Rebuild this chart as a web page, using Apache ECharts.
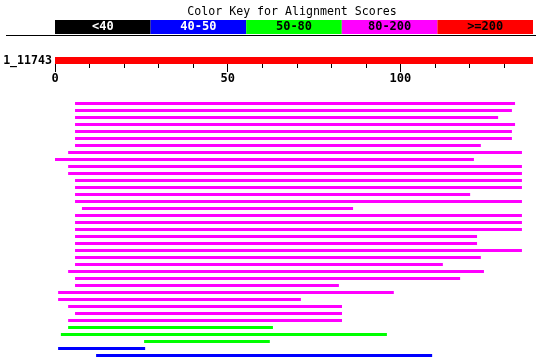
<!DOCTYPE html>
<html><head><meta charset="utf-8">
<script src="https://cdn.jsdelivr.net/npm/echarts@6/dist/echarts.min.js"></script>
<style>html,body{margin:0;padding:0;background:#fff}#c{width:536px;height:360px}</style>
</head><body><div id="c"></div>
<script>
const keyTitle = 'Color Key for Alignment Scores';
const keyLabels = ['<40', '40-50', '50-80', '80-200', '>=200'];
const keyColors = ['#000000', '#0000ff', '#00ff00', '#ff00ff', '#ff0000'];
const keyTextColors = ['#ffffff', '#ffffff', '#000000', '#000000', '#000000'];
const queryName = '1_11743';
const queryLength = 138.4;
const majorTicks = [0, 50, 100];
const minorTicks = [0, 10, 20, 30, 40, 50, 60, 70, 80, 90, 100, 110, 120, 130];
const hitStarts = [5.8, 5.8, 5.8, 5.8, 5.8, 5.8, 5.8, 3.8, 0, 3.8, 3.8, 5.8, 5.8, 5.8, 5.8, 7.8,
  5.8, 5.8, 5.8, 5.8, 5.8, 5.8, 5.8, 5.8, 3.8, 5.8, 5.8, 0.9, 0.9, 3.8, 5.8, 3.8,
  3.8, 1.7, 25.8, 0.9, 11.9];
const hitEnds = [133.2, 132.3, 128.3, 133.2, 132.3, 132.3, 123.3, 135.2, 121.3, 135.2, 135.2, 135.2, 135.2, 120.2, 135.2, 86.3,
  135.2, 135.2, 135.2, 122.2, 122.2, 135.2, 123.3, 112.3, 124.2, 117.3, 82.2, 98.1, 71.2, 83.1, 83.1, 83.1,
  63.1, 96.1, 62.2, 26.1, 109.2];
const hitClass = [3, 3, 3, 3, 3, 3, 3, 3, 3, 3, 3, 3, 3, 3, 3, 3,
  3, 3, 3, 3, 3, 3, 3, 3, 3, 3, 3, 3, 3, 3, 3, 3,
  2, 2, 2, 1, 1];

const MONO = '"DejaVu Sans Mono", "Liberation Mono", monospace';
const hitData = hitStarts.map((s, i) => [s, hitEnds[i], i + 1, hitClass[i]]);

const keyLeft = 55, keyW = 95.6, keyTop = 20, keyH = 14;
const graphics = [
  { type: 'text', left: 'center', top: 0, style: { x: 0, text: keyTitle, font: '11.6px ' + MONO, fill: '#000' }, position: [0, 0] },
  { type: 'line', shape: { x1: 6, y1: 35.5, x2: 536, y2: 35.5 }, style: { stroke: '#000', lineWidth: 1 } }
];
keyLabels.forEach((lab, i) => {
  graphics.push({ type: 'rect', shape: { x: keyLeft + i * keyW, y: keyTop, width: keyW, height: keyH }, style: { fill: keyColors[i] } });
  graphics.push({ type: 'text', style: { x: keyLeft + i * keyW + keyW / 2, y: keyTop + keyH / 2, text: lab, align: 'center', verticalAlign: 'middle', font: 'bold 12px ' + MONO, fill: keyTextColors[i] } });
});

const chart = echarts.init(document.getElementById('c'), null, { renderer: 'canvas' });
chart.setOption({
  animation: false,
  backgroundColor: '#ffffff',
  graphic: [
    { type: 'text', x: 292, y: 11.5, style: { text: keyTitle, align: 'center', verticalAlign: 'middle', font: '11.6px ' + MONO, fill: '#000' } },
  ].concat(graphics.slice(1)),
  grid: [
    { left: 55, width: 478, top: 57, height: 7 },
    { left: 55, width: 478, top: 100, height: 259 }
  ],
  xAxis: [
    { type: 'value', gridIndex: 0, min: 0, max: queryLength, position: 'bottom',
      axisLine: { show: false }, splitLine: { show: false },
      axisTick: { show: true, customValues: majorTicks, length: 8, lineStyle: { color: '#000', width: 1 } },
      axisLabel: { show: true, customValues: majorTicks, margin: 9, color: '#000', fontFamily: MONO, fontWeight: 'bold', fontSize: 12 } },
    { type: 'value', gridIndex: 0, min: 0, max: queryLength, position: 'bottom',
      axisLine: { show: false }, splitLine: { show: false },
      axisTick: { show: true, customValues: minorTicks, length: 4, lineStyle: { color: '#000', width: 1 } },
      axisLabel: { show: false } },
    { type: 'value', gridIndex: 1, min: 0, max: queryLength, show: false }
  ],
  yAxis: [
    { type: 'category', gridIndex: 0, data: [queryName],
      axisLine: { show: false }, axisTick: { show: false }, splitLine: { show: false },
      axisLabel: { margin: 3, color: '#000', fontFamily: MONO, fontWeight: 'bold', fontSize: 11.6 } },
    { type: 'value', gridIndex: 1, min: 0.5, max: 37.5, inverse: true, show: false }
  ],
  series: [
    { type: 'bar', xAxisIndex: 0, yAxisIndex: 0, data: [queryLength], barWidth: 7,
      itemStyle: { color: '#ff0000' } },
    { type: 'custom', xAxisIndex: 2, yAxisIndex: 1, data: hitData,
      encode: { x: [0, 1], y: 2 },
      renderItem: function (params, api) {
        const s = api.coord([api.value(0), api.value(2)]);
        const e = api.coord([api.value(1), api.value(2)]);
        return { type: 'rect', shape: { x: s[0], y: s[1] - 1.5, width: e[0] - s[0], height: 3 },
          style: { fill: keyColors[api.value(3)] } };
      } }
  ]
});
</script></body></html>
